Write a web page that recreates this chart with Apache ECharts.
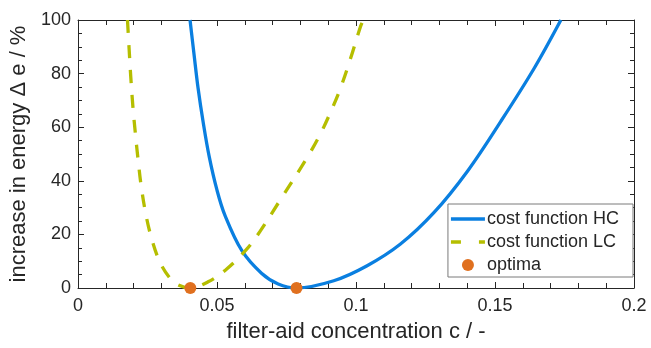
<!DOCTYPE html>
<html>
<head>
<meta charset="utf-8">
<script src="https://cdn.jsdelivr.net/npm/echarts@6/dist/echarts.min.js"></script>
<style>html,body{margin:0;padding:0;background:#fff}#c{width:651px;height:348px}</style>
</head>
<body>
<div id="c"></div>
<script>
// cost function HC: [concentration, increase in energy %]
const hcX = [0.0403,0.0417,0.0432,0.0450,0.0472,0.0500,0.0529,0.0589,0.0660,0.0720,0.0786,0.0920,0.1040,0.1160,0.1280,0.1401,0.1521,0.1641,0.1737];
const hcY = [100,87.5,74.5,62,49,36.5,27,14,5.5,1.5,0,2.7,8.3,16.4,28.1,43.6,62.2,82.0,100];
// cost function LC
const lcX = [0.0178,0.0184,0.0190,0.0198,0.0207,0.0216,0.0228,0.0246,0.0266,0.0294,0.0330,0.0360,0.0404,0.0468,0.0535,0.0607,0.0656,0.0721,0.0824,0.0872,0.0908,0.0944,0.0980,0.1016,0.1026];
const lcY = [100,89,78.5,67,57,48,37.5,26.5,18,9.8,3.8,1.2,0,2.3,7.1,14.5,21.3,31.8,48.6,57.5,65.5,74.5,85.5,97.5,100];
// optima
const optX = [0.0404,0.0786];
const optY = [0,0];
const xTicks = [0,0.05,0.1,0.15,0.2];

const zip = (a,b)=>a.map((v,i)=>[v,b[i]]);
const txt = '#262626';
const font = 'Liberation Sans';
const chart = echarts.init(document.getElementById('c'));
const axisLine = {show:true, onZero:false, lineStyle:{color:'#262626', width:1}};
const tickX = {show:true,inside:true,length:6,lineStyle:{color:'#262626'}};
const minorX = {show:true,splitNumber:5,length:5,lineStyle:{color:'#262626'}};
const tickY = {show:true,inside:true,length:6,lineStyle:{color:'#262626'}};
const minorY = {show:true,splitNumber:4,length:4,lineStyle:{color:'#262626'}};
chart.setOption({
  animation:false,
  grid:{left:78,right:17,top:20,bottom:59,containLabel:false},
  legend:{
    right:18, top:204, orient:'vertical', align:'left',
    backgroundColor:'#fff', borderColor:'#7a7a7a', borderWidth:1,
    padding:[6,14,3,3], itemGap:5, itemWidth:34, itemHeight:12,
    textStyle:{fontFamily:font,fontSize:18,color:txt,padding:[0,0,0,-3]},
    data:[
      {name:'cost function HC', icon:'path://M0,0H34V3.5H0Z'},
      {name:'cost function LC', icon:'path://M0,0H10V3.5H0ZM28,0H34V3.5H28Z'},
      {name:'optima', icon:'circle'}
    ]
  },
  xAxis:[{
    type:'value', min:0, max:0.2, interval:0.05,
    name:'filter-aid concentration c / -', nameLocation:'middle', nameGap:33,
    nameTextStyle:{fontFamily:font,fontSize:22,color:txt},
    axisLine:axisLine, axisTick:tickX, minorTick:minorX,
    axisLabel:{fontFamily:font,fontSize:18,color:txt,margin:9,
      formatter:v=>xTicks.indexOf(+v.toFixed(2))>=0?String(+v.toFixed(2)):''},
    splitLine:{show:false}, minorSplitLine:{show:false}
  },{
    type:'value', min:0, max:0.2, interval:0.05, position:'top',
    axisLine:axisLine, axisTick:tickX, minorTick:minorX,
    axisLabel:{show:false}, splitLine:{show:false}
  }],
  yAxis:[{
    type:'value', min:0, max:100, interval:20,
    name:'increase in energy Δ e / %', nameLocation:'middle', nameGap:43,
    nameTextStyle:{fontFamily:font,fontSize:22,color:txt},
    axisLine:axisLine, axisTick:tickY, minorTick:minorY,
    axisLabel:{fontFamily:font,fontSize:18,color:txt,margin:7},
    splitLine:{show:false}
  },{
    type:'value', min:0, max:100, interval:20, position:'right',
    axisLine:axisLine, axisTick:tickY, minorTick:minorY,
    axisLabel:{show:false}, splitLine:{show:false}
  }],
  series:[
    {name:'cost function HC', type:'line', data:zip(hcX,hcY), smooth:0.35, showSymbol:false, symbol:'none',
     lineStyle:{color:'#0A7FE0', width:3.3}, itemStyle:{color:'#0A7FE0'}},
    {name:'cost function LC', type:'line', data:zip(lcX,lcY), smooth:0.35, showSymbol:false, symbol:'none',
     lineStyle:{color:'#B5BE00', width:3.3, type:[13,12]}, itemStyle:{color:'#B5BE00'}},
    {name:'optima', type:'scatter', data:zip(optX,optY), symbolSize:12,
     itemStyle:{color:'#E0701F', opacity:1}, clip:false, z:5}
  ]
});
</script>
</body>
</html>
